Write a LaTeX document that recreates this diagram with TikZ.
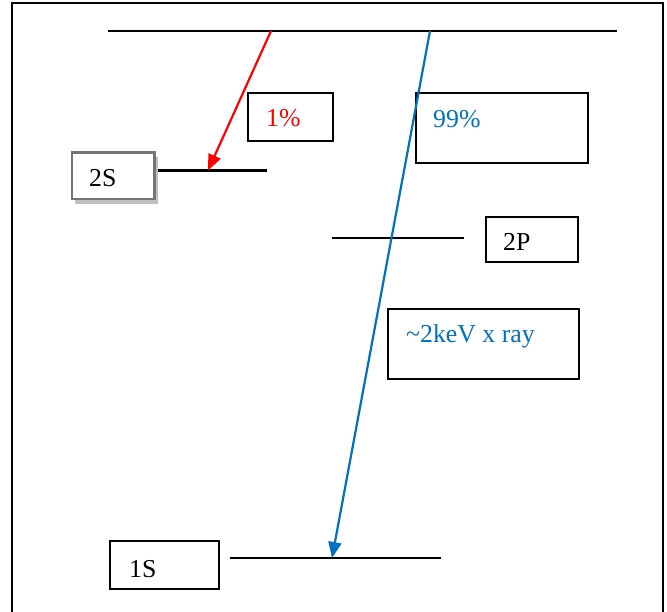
\documentclass[tikz,border=0pt]{standalone}
\usepackage{fontspec}
\setmainfont{Liberation Serif}
\usetikzlibrary{arrows.meta}
\definecolor{xblue}{RGB}{0,112,192}
\definecolor{boxgray}{RGB}{118,118,118}
\definecolor{shadowgray}{RGB}{192,192,192}
\begin{document}
\begin{tikzpicture}[x=1pt,y=-1pt,
  box/.style={draw=black, line width=2pt, fill=white, rectangle, inner sep=0pt},
  lbl/.style={anchor=base west, inner sep=0pt, font=\fontsize{25.8}{30}\selectfont},
  level/.style={line width=2.2pt},
  trans/.style={line width=2.2pt, -{Triangle[length=16pt,width=13pt]}}]
\useasboundingbox (0,0) rectangle (667,612);
\clip (0,0) rectangle (667,612);
% frame
\draw[line width=2.2pt] (12,3) rectangle (663,650);
% energy levels
\coordinate (tl) at (108,31);  \coordinate (tr) at (617,31);
\coordinate (sl) at (158,170.5); \coordinate (sr) at (267,170.5);
\coordinate (pl) at (332,238); \coordinate (pr) at (464,238);
\coordinate (gl) at (230,558); \coordinate (gr) at (441,558);
\draw[level] (tl) -- (tr);
\draw[level] (sl) -- (sr);
\draw[level] (pl) -- (pr);
\draw[level] (gl) -- (gr);
% boxes
\node[box, minimum width=84.4pt, minimum height=48.3pt] (b1) at (290.5,116.8) {};
\node[box, minimum width=172.3pt, minimum height=69.4pt] (b99) at (502.2,128) {};
\fill[shadowgray] (75,157) rectangle (158,204);
\node[box, draw=boxgray, line width=2.5pt, minimum width=82.3pt, minimum height=46.3pt] (b2S) at (113.2,175.9) {};
\node[box, minimum width=92.6pt, minimum height=45pt] (b2P) at (532,239.2) {};
\node[box, minimum width=190.7pt, minimum height=70.3pt] (bX) at (483.7,344.2) {};
\node[box, minimum width=108.7pt, minimum height=48.3pt] (b1S) at (164.3,565) {};
% transitions
\coordinate (rs) at (271,31); \coordinate (re) at (208,170.5);
\coordinate (bs) at (430,31); \coordinate (be) at (332,558);
\draw[trans, red] (rs) -- (re);
\draw[trans, xblue] (bs) -- (be);
% labels
\node[lbl, text=red] (t1) at (266,127) {1\%};
\node[lbl, text=xblue] (t99) at (433,128) {99\%};
\node[lbl] (t2S) at (89,187) {2S};
\node[lbl] (t2P) at (503,251) {2P};
\node[lbl, text=xblue] (tX) at (406,343) {\char"007E 2keV x ray};
\node[lbl] (t1S) at (129,577) {1S};
\end{tikzpicture}
\end{document}
